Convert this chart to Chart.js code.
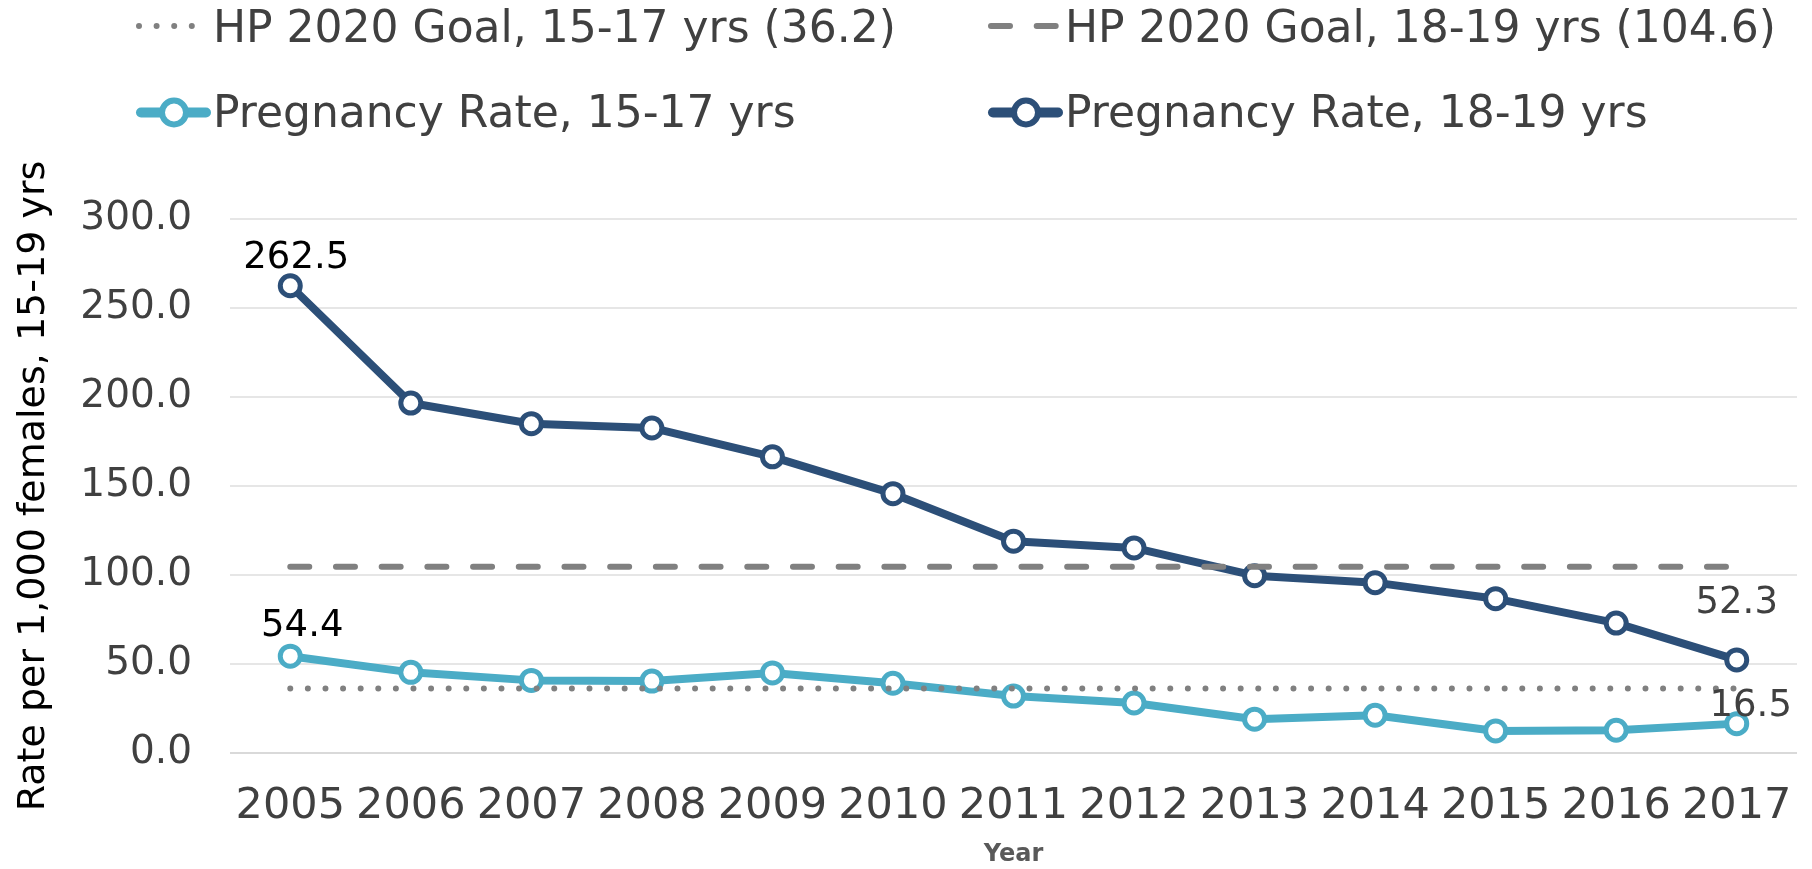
<!DOCTYPE html>
<html>
<head>
<meta charset="utf-8">
<title>Pregnancy Rate, 15-19 yrs</title>
<script src="https://cdn.jsdelivr.net/npm/chart.js@4.4.0/dist/chart.umd.min.js"></script>
<style>
    html, body { margin: 0; padding: 0; background: #fff; }
    #wrap { width: 1812px; height: 869px; position: relative; }
</style>
</head>
<body>
<div id="wrap"><canvas id="rateChart"></canvas></div>
<script>
// Data
const years = ['2005', '2006', '2007', '2008', '2009', '2010', '2011', '2012', '2013', '2014', '2015', '2016', '2017'];
const rate1517 = [54.4, 45.3, 40.8, 40.4, 45.0, 39.2, 32.0, 28.1, 19.0, 21.2, 12.4, 12.8, 16.5];
const rate1819 = [262.5, 196.6, 185.0, 182.6, 166.4, 145.7, 119.0, 115.2, 99.6, 95.7, 86.7, 73.0, 52.3];
const goal1517 = 36.2;
const goal1819 = 104.6;
const yTicks = [0, 50, 100, 150, 200, 250, 300];

const FONT = "'DejaVu Sans', Verdana, sans-serif";
const LIGHT_BLUE = '#4BACC6';
const DARK_BLUE = '#2C4F78';
const GOAL_GREY = '#808080';

// Legend in two columns, drawn on the canvas
const legendPlugin = {
    id: 'twoColumnLegend',
    afterDraw(chart) {
        const ctx = chart.ctx;
        const slots = [
            { ds: 0, x: 136, y: 26, base: 41.5 },
            { ds: 1, x: 988, y: 26, base: 41.5 },
            { ds: 2, x: 136, y: 112.5, base: 127 },
            { ds: 3, x: 988, y: 112.5, base: 127 }
        ];
        ctx.save();
        slots.forEach(slot => {
            const ds = chart.data.datasets[slot.ds];
            ctx.strokeStyle = ds.borderColor;
            ctx.lineCap = 'round';
            if (ds.isGoal) {
                ctx.lineWidth = ds.borderWidth;
                ctx.setLineDash(ds.borderDash);
                ctx.beginPath();
                ctx.moveTo(slot.x + 3, slot.y);
                ctx.lineTo(slot.x + 72, slot.y);
                ctx.stroke();
                ctx.setLineDash([]);
            } else {
                ctx.lineWidth = 10;
                ctx.beginPath();
                ctx.moveTo(slot.x + 5, slot.y);
                ctx.lineTo(slot.x + 70, slot.y);
                ctx.stroke();
                ctx.beginPath();
                ctx.arc(slot.x + 38, slot.y, 12, 0, Math.PI * 2);
                ctx.fillStyle = '#fff';
                ctx.fill();
                ctx.lineWidth = 6;
                ctx.stroke();
            }
            ctx.fillStyle = '#404040';
            ctx.font = `44px ${FONT}`;
            ctx.textAlign = 'left';
            ctx.textBaseline = 'alphabetic';
            ctx.fillText(ds.label, slot.x + 77, slot.base);
        });
        ctx.restore();
    }
};

// First and last value labels on the rate lines
const valueLabelPlugin = {
    id: 'valueLabels',
    afterDatasetsDraw(chart) {
        const ctx = chart.ctx;
        const labels = [
            { ds: 3, i: 0, dx: 6, dy: -18, color: '#000' },
            { ds: 2, i: 0, dx: 12, dy: -20, color: '#000' },
            { ds: 3, i: years.length - 1, dx: 0, dy: -47, color: '#404040' },
            { ds: 2, i: years.length - 1, dx: 14, dy: -8, color: '#404040' }
        ];
        ctx.save();
        ctx.font = `37px ${FONT}`;
        ctx.textAlign = 'center';
        ctx.textBaseline = 'alphabetic';
        labels.forEach(l => {
            const pt = chart.getDatasetMeta(l.ds).data[l.i];
            const value = chart.data.datasets[l.ds].data[l.i];
            ctx.fillStyle = l.color;
            ctx.fillText(value.toFixed(1), pt.x + l.dx, pt.y + l.dy);
        });
        ctx.restore();
    }
};

const ctx = document.getElementById('rateChart');
new Chart(ctx, {
    type: 'line',
    data: {
        labels: years,
        datasets: [
            {
                label: `HP 2020 Goal, 15-17 yrs (${goal1517.toFixed(1)})`,
                data: years.map(() => goal1517),
                isGoal: true,
                borderColor: GOAL_GREY,
                borderWidth: 6,
                borderDash: [0, 17.6],
                borderCapStyle: 'round',
                pointRadius: 0,
                fill: false
            },
            {
                label: `HP 2020 Goal, 18-19 yrs (${goal1819.toFixed(1)})`,
                data: years.map(() => goal1819),
                isGoal: true,
                borderColor: GOAL_GREY,
                borderWidth: 6,
                borderDash: [19, 26.7],
                borderCapStyle: 'round',
                pointRadius: 0,
                fill: false
            },
            {
                label: 'Pregnancy Rate, 15-17 yrs',
                data: rate1517,
                borderColor: LIGHT_BLUE,
                borderWidth: 8,
                borderJoinStyle: 'round',
                pointRadius: 10,
                pointBorderWidth: 5,
                pointBackgroundColor: '#fff',
                pointBorderColor: LIGHT_BLUE,
                tension: 0,
                fill: false
            },
            {
                label: 'Pregnancy Rate, 18-19 yrs',
                data: rate1819,
                borderColor: DARK_BLUE,
                borderWidth: 8,
                borderJoinStyle: 'round',
                pointRadius: 10,
                pointBorderWidth: 5,
                pointBackgroundColor: '#fff',
                pointBorderColor: DARK_BLUE,
                tension: 0,
                fill: false
            }
        ]
    },
    options: {
        responsive: true,
        maintainAspectRatio: false,
        animation: false,
        events: [],
        layout: {
            padding: { top: 219, right: 8, bottom: 0, left: 0 }
        },
        plugins: {
            legend: { display: false },
            tooltip: { enabled: false }
        },
        scales: {
            x: {
                offset: true,
                grid: { display: false, drawTicks: false },
                border: { display: false },
                ticks: {
                    color: '#404040',
                    font: { family: FONT, size: 43 },
                    padding: 28,
                    maxRotation: 0,
                    autoSkip: false
                },
                title: {
                    display: true,
                    text: 'Year',
                    color: '#595959',
                    font: { family: FONT, size: 24, weight: 'bold' },
                    padding: { top: 0, bottom: 0 }
                },
                afterFit(scale) {
                    scale.height = 116;
                    scale.paddingLeft = 0;
                    scale.paddingRight = 0;
                }
            },
            y: {
                min: yTicks[0],
                max: yTicks[yTicks.length - 1],
                afterBuildTicks(scale) {
                    scale.ticks = yTicks.map(v => ({ value: v }));
                },
                grid: {
                    drawTicks: false,
                    lineWidth: 2,
                    color: c => c.tick && c.tick.value === 0 ? '#D9D9D9' : '#E6E6E6'
                },
                border: { display: false },
                ticks: {
                    color: '#404040',
                    font: { family: FONT, size: 39 },
                    padding: 38,
                    callback: v => Number(v).toFixed(1)
                },
                title: {
                    display: true,
                    text: 'Rate per 1,000 females, 15-19 yrs',
                    color: '#000',
                    font: { family: FONT, size: 38 },
                    padding: { top: 11, bottom: 0 }
                },
                afterFit(scale) {
                    scale.width = 230;
                }
            }
        }
    },
    plugins: [legendPlugin, valueLabelPlugin]
});
</script>
</body>
</html>
